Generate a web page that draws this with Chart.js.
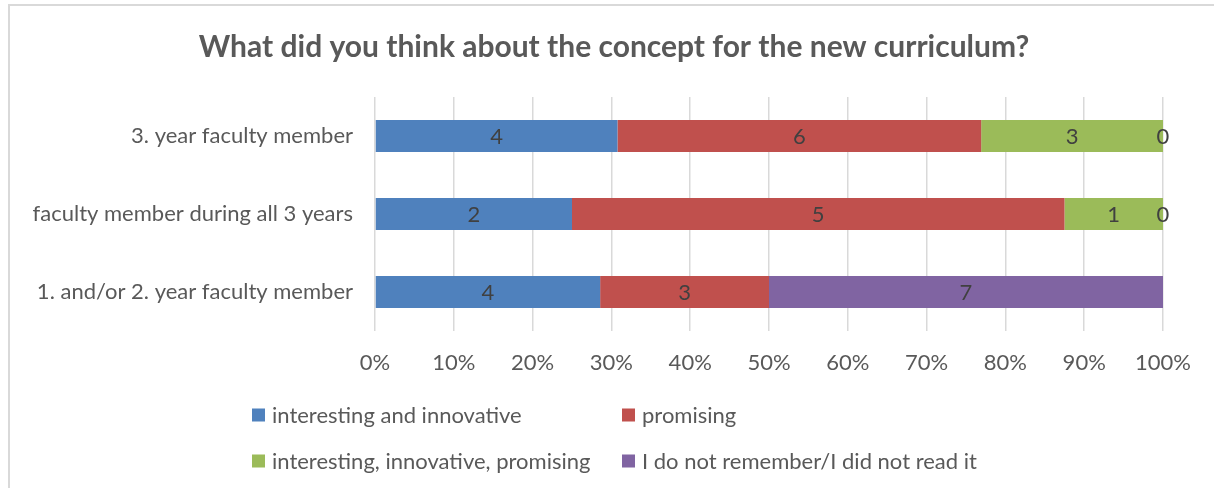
<!DOCTYPE html>
<html lang="en">
<head>
  <meta charset="UTF-8">
  <title>What did you think about the concept for the new curriculum?</title>
  <script src="https://cdn.jsdelivr.net/npm/chart.js@4.4.0/dist/chart.umd.min.js"></script>
  <style>
    body { margin: 0; background: #fff; }
    .wrap { position: relative; width: 1214px; height: 488px; overflow: hidden; }
    .wrap .frame { position: absolute; left: 8px; top: 4px; width: 1300px; height: 600px;
                   border-top: 2px solid #d9d9d9; border-left: 2px solid #d9d9d9; }
    canvas { position: absolute; left: 0; top: 0; }
  </style>
</head>
<body>
  <div class="wrap">
    <div class="frame"></div>
    <canvas id="chart" width="1214" height="488"></canvas>
  </div>

  <script>
    // Data (counts per group)
    const chartTitle = 'What did you think about the concept for the new curriculum?';
    const categories = ['3. year faculty member', 'faculty member during all 3 years', '1. and/or 2. year faculty member'];
    const seriesNames = ['interesting and innovative', 'promising', 'interesting, innovative, promising', 'I do not remember/I did not read it'];
    const interestingInnovative = [4, 2, 4];
    const promising = [6, 5, 3];
    const allThree = [3, 1, null];
    const notRead = [0, 0, 7];
    const tickLabels = ['0%', '10%', '20%', '30%', '40%', '50%', '60%', '70%', '80%', '90%', '100%'];

    const colors = ['#4f81bd', '#c0504d', '#9bbb59', '#8064a2'];
    const FONT = 'Lato';
    const TEXT = '#595959';

    const counts = [interestingInnovative, promising, allThree, notRead];
    const totals = categories.map((_, i) => counts.reduce((s, arr) => s + (arr[i] || 0), 0));

    const datasets = counts.map((arr, k) => ({
      label: seriesNames[k],
      counts: arr,
      data: arr.map((v, i) => v === null ? null : v / totals[i] * 100),
      backgroundColor: colors[k],
      borderWidth: 0,
      categoryPercentage: 1,
      barPercentage: 0.41
    }));

    // value labels in the middle of each segment
    const valueLabels = {
      id: 'valueLabels',
      afterDatasetsDraw(chart) {
        const ctx = chart.ctx;
        ctx.save();
        ctx.font = '22px ' + FONT;
        ctx.fillStyle = '#404040';
        ctx.textAlign = 'center';
        ctx.textBaseline = 'middle';
        chart.data.datasets.forEach((ds, i) => {
          chart.getDatasetMeta(i).data.forEach((bar, j) => {
            const v = ds.counts[j];
            if (v === null) return;
            const p = bar.getProps(['x', 'y', 'base'], true);
            ctx.fillText(String(v), (p.x + p.base) / 2, p.y + 1);
          });
        });
        ctx.restore();
      }
    };

    // title centred on the whole frame + two-column legend like the original
    const frameText = {
      id: 'frameText',
      afterDraw(chart) {
        const ctx = chart.ctx;
        ctx.save();
        ctx.fillStyle = TEXT;
        ctx.textBaseline = 'middle';
        ctx.textAlign = 'center';
        ctx.font = 'bold 30px ' + FONT;
        ctx.fillText(chartTitle, 614, 47);

        const colX = [252, 622];
        const rowY = [415, 461];
        ctx.textAlign = 'left';
        ctx.font = '22px ' + FONT;
        chart.data.datasets.forEach((ds, i) => {
          const x = colX[i % 2], y = rowY[Math.floor(i / 2)];
          ctx.fillStyle = ds.backgroundColor;
          ctx.fillRect(x, y - 6.5, 13, 13);
          ctx.fillStyle = TEXT;
          ctx.fillText(ds.label, x + 20, y + 1);
        });
        ctx.restore();
      }
    };

    new Chart(document.getElementById('chart'), {
      type: 'bar',
      data: { labels: categories, datasets },
      plugins: [valueLabels, frameText],
      options: {
        indexAxis: 'y',
        responsive: false,
        animation: false,
        layout: { padding: { left: 0, right: 51, top: 97, bottom: 115 } },
        plugins: {
          legend: { display: false },
          tooltip: { enabled: false },
          title: { display: false }
        },
        scales: {
          x: {
            stacked: true,
            min: 0,
            max: 100,
            border: { display: false },
            grid: { color: '#d9d9d9', lineWidth: 1.5, drawTicks: false },
            afterFit: s => { s.height = 42; },
            afterBuildTicks: s => { s.ticks = tickLabels.map((_, i) => ({ value: i * 10 })); },
            ticks: {
              padding: 19,
              color: TEXT,
              font: { family: FONT, size: 22 },
              callback: (v, i) => tickLabels[i]
            }
          },
          y: {
            stacked: true,
            border: { display: false },
            grid: { display: false, drawTicks: false },
            afterFit: s => { s.width = 375; },
            ticks: {
              padding: 22,
              color: TEXT,
              font: { family: FONT, size: 22 }
            }
          }
        }
      }
    });
  </script>
</body>
</html>
